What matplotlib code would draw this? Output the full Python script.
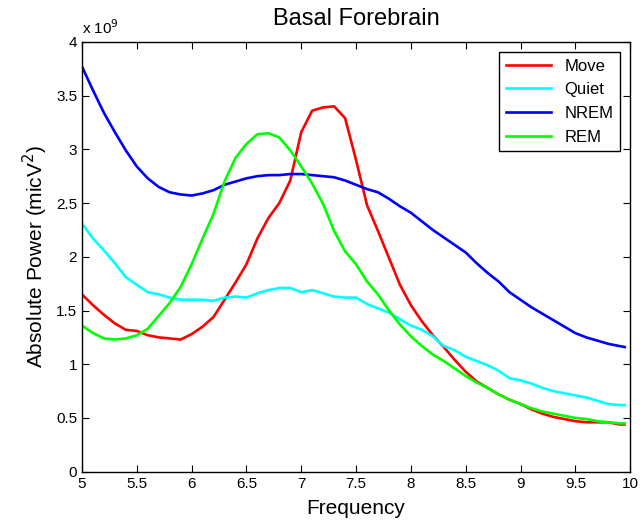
import numpy as np
import matplotlib.pyplot as plt

plt.rcParams['font.family'] = ['Liberation Sans', 'DejaVu Sans']

freq = [round(5.0 + 0.1 * i, 1) for i in range(50)] + [9.95]

# absolute power, units of 1e9 micV^2
move = [1.65, 1.55, 1.46, 1.38, 1.32, 1.31, 1.27, 1.25, 1.24, 1.23,
        1.28, 1.35, 1.44, 1.60, 1.76, 1.93, 2.17, 2.36, 2.50, 2.71,
        3.16, 3.36, 3.39, 3.40, 3.29, 2.90, 2.48, 2.24, 1.99, 1.74,
        1.55, 1.40, 1.27, 1.16, 1.04, 0.93, 0.84, 0.78, 0.72, 0.67,
        0.63, 0.58, 0.54, 0.51, 0.49, 0.47, 0.46, 0.46, 0.46, 0.44, 0.44]
quiet = [2.31, 2.17, 2.06, 1.94, 1.81, 1.74, 1.67, 1.65, 1.62, 1.60,
         1.60, 1.60, 1.59, 1.62, 1.63, 1.62, 1.66, 1.69, 1.71, 1.71,
         1.67, 1.69, 1.66, 1.63, 1.62, 1.62, 1.56, 1.52, 1.48, 1.42,
         1.36, 1.32, 1.26, 1.17, 1.13, 1.07, 1.03, 0.99, 0.94, 0.87,
         0.85, 0.82, 0.78, 0.75, 0.73, 0.71, 0.69, 0.66, 0.63, 0.62, 0.62]
nrem = [3.77, 3.55, 3.34, 3.16, 2.99, 2.84, 2.73, 2.65, 2.60, 2.58,
        2.57, 2.59, 2.62, 2.67, 2.70, 2.73, 2.75, 2.76, 2.76, 2.77,
        2.77, 2.76, 2.75, 2.74, 2.71, 2.67, 2.63, 2.60, 2.54, 2.47,
        2.41, 2.33, 2.25, 2.18, 2.11, 2.04, 1.94, 1.85, 1.77, 1.67,
        1.60, 1.53, 1.47, 1.41, 1.35, 1.29, 1.25, 1.22, 1.19, 1.17, 1.16]
rem = [1.36, 1.29, 1.24, 1.23, 1.24, 1.27, 1.33, 1.45, 1.57, 1.72,
       1.93, 2.17, 2.40, 2.70, 2.92, 3.05, 3.14, 3.15, 3.11, 2.99,
       2.84, 2.68, 2.49, 2.24, 2.05, 1.93, 1.77, 1.65, 1.50, 1.37,
       1.26, 1.17, 1.09, 1.03, 0.96, 0.89, 0.83, 0.78, 0.72, 0.67,
       0.63, 0.59, 0.56, 0.54, 0.52, 0.50, 0.49, 0.47, 0.46, 0.45, 0.45]

fig = plt.figure(figsize=(6.43, 5.30), dpi=100)
ax = fig.add_axes([0.1275, 0.110, 0.8525, 0.811])

ax.plot(freq, move, color='#ff0000', lw=1.9, label='Move')
ax.plot(freq, quiet, color='#00ffff', lw=1.9, label='Quiet')
ax.plot(freq, nrem, color='#0000ff', lw=1.9, label='NREM')
ax.plot(freq, rem, color='#00ff00', lw=1.9, label='REM')

ax.set_xlim(5, 10)
ax.set_ylim(0, 4)
ax.set_xticks(np.arange(5, 10.01, 0.5))
ax.set_xticklabels(['5', '5.5', '6', '6.5', '7', '7.5', '8', '8.5', '9', '9.5', '10'])
ax.set_yticks(np.arange(0, 4.01, 0.5))
ax.set_yticklabels(['0', '0.5', '1', '1.5', '2', '2.5', '3', '3.5', '4'])
ax.tick_params(direction='in', top=True, right=True, labelsize=11, length=5)
for s in ax.spines.values():
    s.set_linewidth(1.0)

ax.text(0.0, 1.012, 'x 10$^9$', transform=ax.transAxes, fontsize=11, ha='left', va='bottom')
ax.set_title('Basal Forebrain', fontsize=17, pad=12)
ax.set_xlabel('Frequency', fontsize=15, labelpad=6)
ax.set_ylabel('Absolute Power (micV$^2$)', fontsize=15)

leg = ax.legend(loc='upper right', fontsize=12, handlelength=2.7, fancybox=False,
                edgecolor='black', framealpha=1, borderaxespad=0.6, labelspacing=0.52)
leg.get_frame().set_linewidth(1.0)

fig.savefig('out.png', dpi=100)
